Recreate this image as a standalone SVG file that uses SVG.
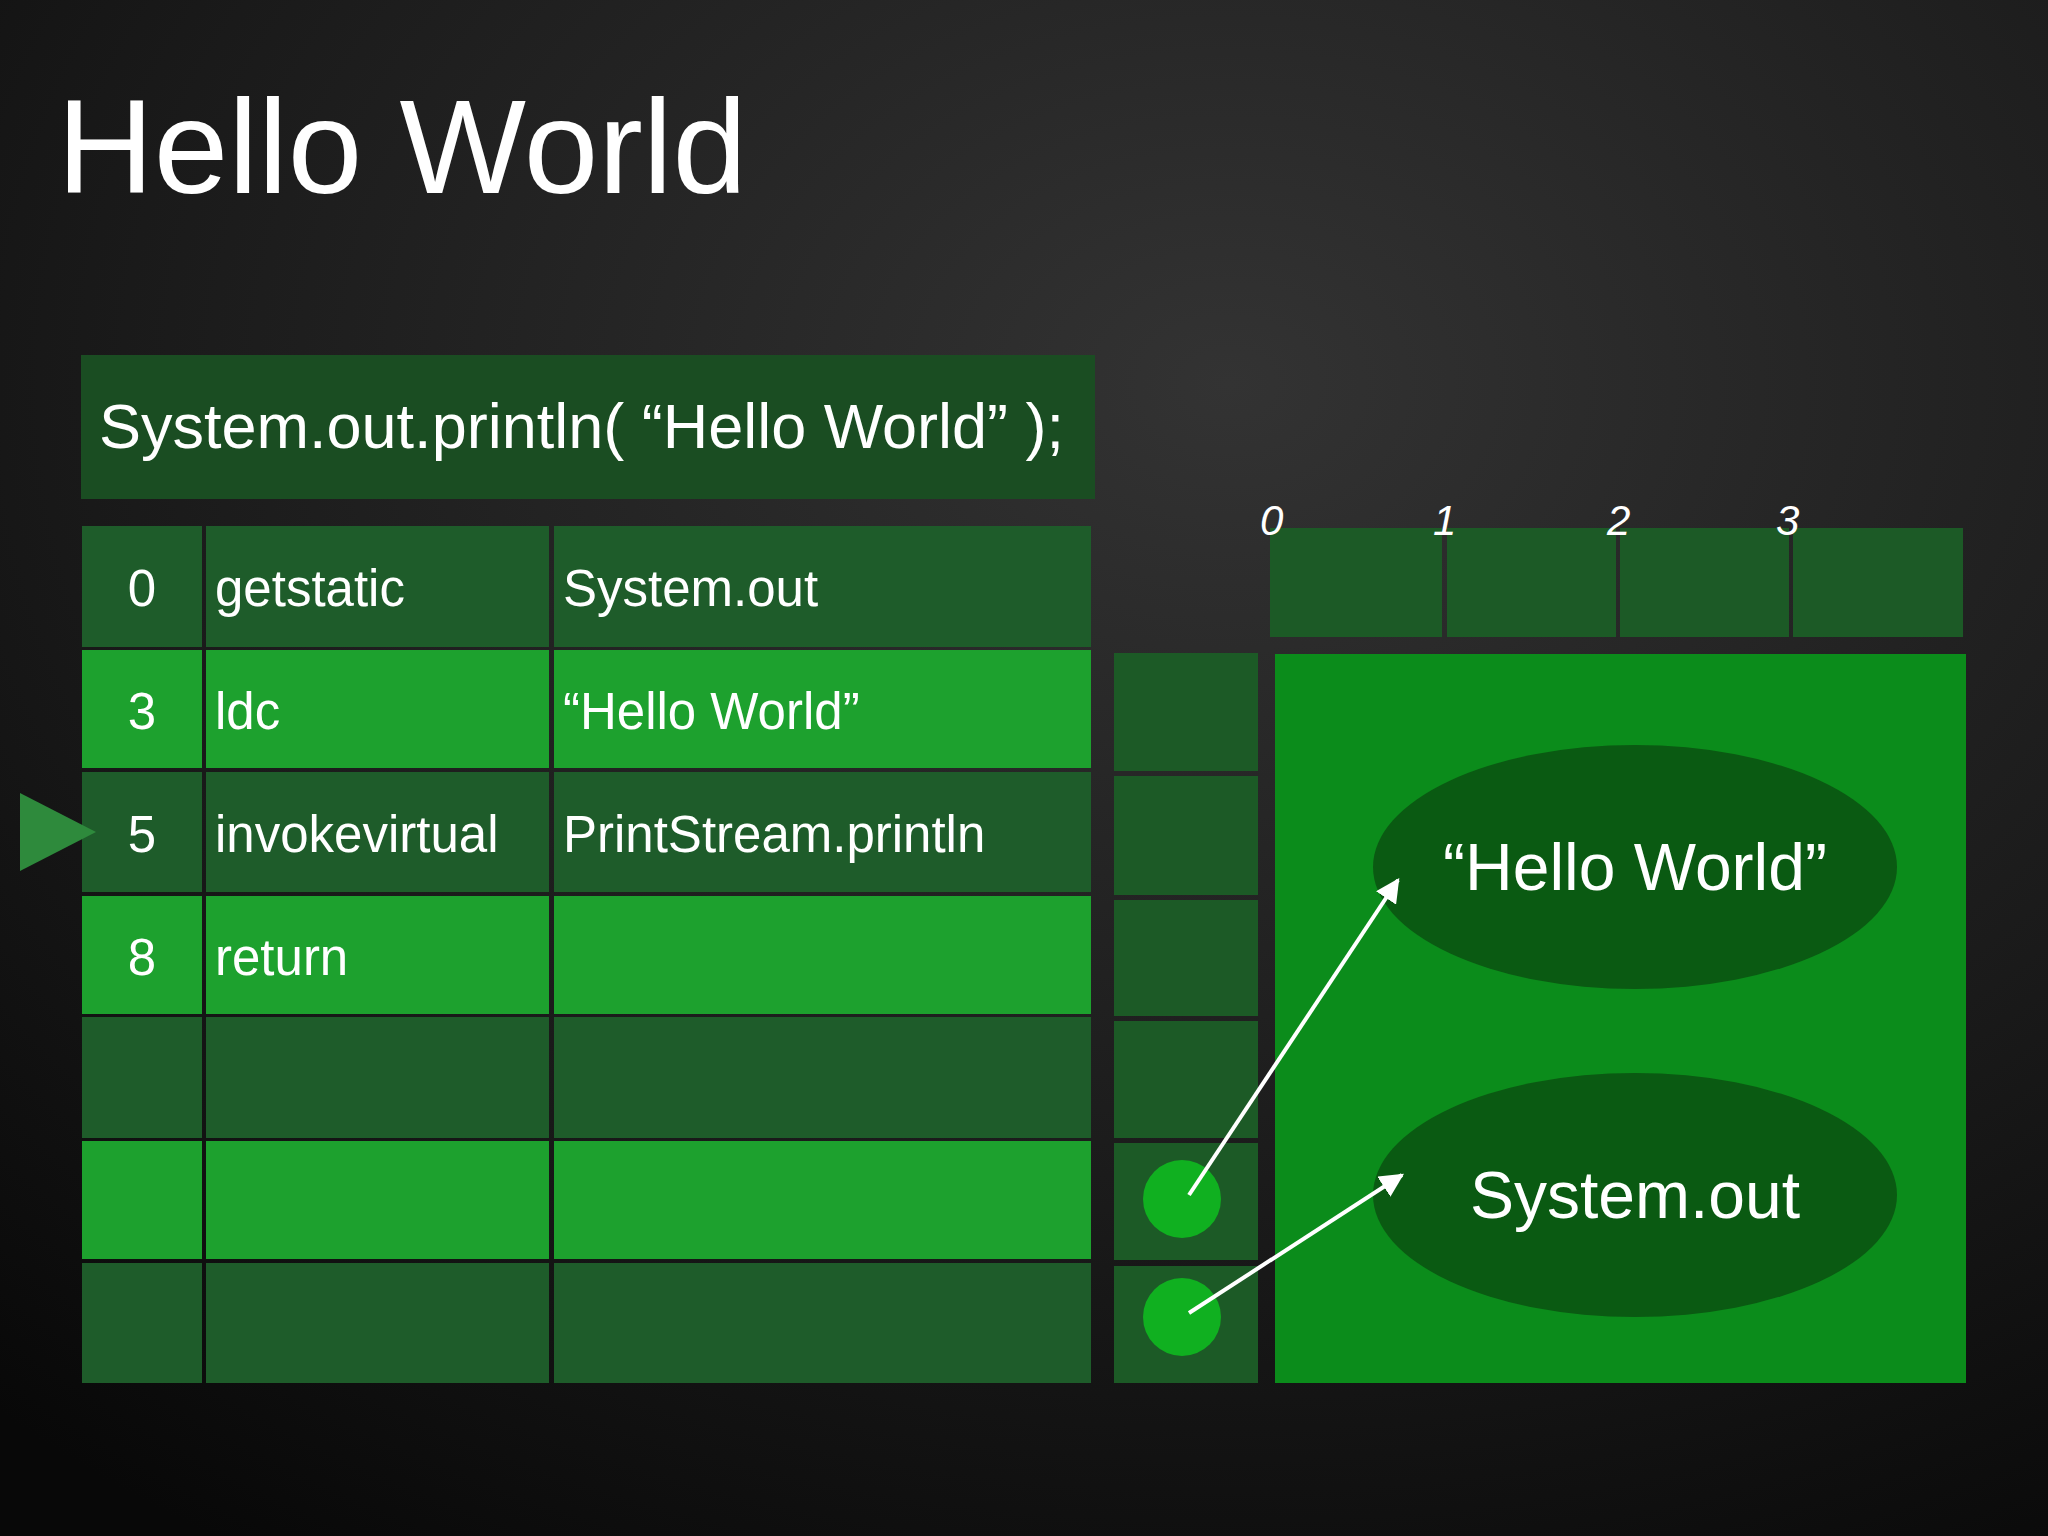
<svg xmlns="http://www.w3.org/2000/svg" width="2048" height="1536" viewBox="0 0 2048 1536">
<defs>
<radialGradient id="bg" cx="0.6" cy="0.25" r="0.9">
<stop offset="0" stop-color="#333"/><stop offset="0.6" stop-color="#1a1a1a"/><stop offset="1" stop-color="#080808"/>
</radialGradient>
<marker id="ah" viewBox="0 0 10 10" refX="9" refY="5" markerWidth="6" markerHeight="6" orient="auto"><path d="M0,0 L10,5 L0,10 z" fill="#fff"/></marker>
</defs>
<style>
.t{font-family:"Helvetica Neue","Liberation Sans",Arial,sans-serif;fill:#fff}
.d{fill:#1e5c2a}.b{fill:#1da12e}.s{fill:#1c5a26}
.c{font-size:51px}
.i{font-size:42px;font-style:italic}
</style>
<rect width="2048" height="1536" fill="url(#bg)"/>
<text class="t" x="57" y="193" font-size="134">Hello World</text>
<g id="header"><rect x="81" y="355" width="1014" height="144" fill="#1a4d22"/><text class="t" x="99" y="448" font-size="63">System.out.println( “Hello World” );</text></g>
<g id="table">
<g class="d"><rect x="82" y="526" width="120" height="121"/><rect x="206" y="526" width="343" height="121"/><rect x="554" y="526" width="537" height="121"/></g>
<g class="b"><rect x="82" y="650" width="120" height="118"/><rect x="206" y="650" width="343" height="118"/><rect x="554" y="650" width="537" height="118"/></g>
<g class="d"><rect x="82" y="772" width="120" height="120"/><rect x="206" y="772" width="343" height="120"/><rect x="554" y="772" width="537" height="120"/></g>
<g class="b"><rect x="82" y="896" width="120" height="118"/><rect x="206" y="896" width="343" height="118"/><rect x="554" y="896" width="537" height="118"/></g>
<g class="d"><rect x="82" y="1017" width="120" height="121"/><rect x="206" y="1017" width="343" height="121"/><rect x="554" y="1017" width="537" height="121"/></g>
<g class="b"><rect x="82" y="1141" width="120" height="118"/><rect x="206" y="1141" width="343" height="118"/><rect x="554" y="1141" width="537" height="118"/></g>
<g class="d"><rect x="82" y="1263" width="120" height="120"/><rect x="206" y="1263" width="343" height="120"/><rect x="554" y="1263" width="537" height="120"/></g>
<g class="t c">
<text x="142" y="606" text-anchor="middle">0</text><text x="215" y="606">getstatic</text><text x="563" y="606">System.out</text>
<text x="142" y="729" text-anchor="middle">3</text><text x="215" y="729">ldc</text><text x="563" y="729">“Hello World”</text>
<text x="142" y="852" text-anchor="middle">5</text><text x="215" y="852">invokevirtual</text><text x="563" y="852">PrintStream.println</text>
<text x="142" y="975" text-anchor="middle">8</text><text x="215" y="975">return</text>
</g>
</g>
<g id="pointer"><polygon points="20,793 20,871 96,832" fill="#2e8a3c"/></g>
<g id="stack" class="s">
<rect x="1114" y="653" width="144" height="118"/><rect x="1114" y="776" width="144" height="119"/><rect x="1114" y="900" width="144" height="116"/><rect x="1114" y="1021" width="144" height="117"/><rect x="1114" y="1143" width="144" height="117"/><rect x="1114" y="1266" width="144" height="117"/>
</g>
<g id="locals">
<g class="s"><rect x="1270" y="528" width="172" height="109"/><rect x="1447" y="528" width="169" height="109"/><rect x="1620" y="528" width="169" height="109"/><rect x="1793" y="528" width="170" height="109"/></g>
<g class="t i"><text x="1260" y="535">0</text><text x="1433" y="535">1</text><text x="1607" y="535">2</text><text x="1776" y="535">3</text></g>
</g>
<g id="heap"><rect x="1275" y="654" width="691" height="729" fill="#0b8c1b"/></g>
<g id="obj1"><ellipse cx="1635" cy="867" rx="262" ry="122" fill="#0a5a12"/><text class="t" x="1635" y="890" font-size="66" text-anchor="middle">“Hello World”</text></g>
<g id="obj2"><ellipse cx="1635" cy="1195" rx="262" ry="122" fill="#0a5a12"/><text class="t" x="1635" y="1218" font-size="66" text-anchor="middle">System.out</text></g>
<g id="ref1"><circle cx="1182" cy="1199" r="39" fill="#10b020"/></g>
<g id="ref2"><circle cx="1182" cy="1317" r="39" fill="#10b020"/></g>
<g id="connectors" stroke="#fff" stroke-width="4" fill="none">
<line x1="1189" y1="1195" x2="1398" y2="880" marker-end="url(#ah)"/>
<line x1="1189" y1="1313" x2="1402" y2="1175" marker-end="url(#ah)"/>
</g>
</svg>
